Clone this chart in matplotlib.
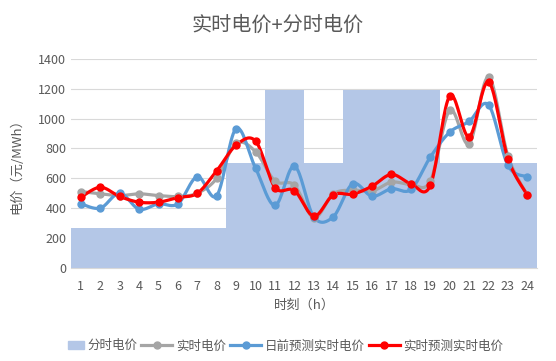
import numpy as np
import matplotlib.pyplot as plt
from matplotlib.patches import Patch, Rectangle
from matplotlib.lines import Line2D
from matplotlib.legend_handler import HandlerPatch

plt.rcParams['font.family'] = ['Noto Sans CJK SC', 'DejaVu Sans']

hours = list(range(1, 25))
tou_price = [265] * 8 + [700] * 2 + [1188] * 2 + [700] * 2 + [1188] * 5 + [700] * 5
real_price = [511, 496, 484, 496, 484, 478, 500, 600, 833, 778, 582, 554,
              335, 495, 520, 514, 574, 559, 581, 1055, 831, 1278, 749, 487]
day_ahead = [429, 400, 500, 393, 429, 429, 611, 484, 933, 667, 418, 682,
             340, 342, 563, 480, 530, 525, 742, 909, 981, 1091, 686, 610]
rt_forecast = [473, 540, 478, 440, 440, 471, 500, 651, 822, 849, 538, 518,
               346, 489, 494, 547, 626, 563, 552, 1151, 878, 1245, 731, 487]


def smooth(x, y, n=20):
    # Excel-style smoothed line: cubic bezier through points
    x = np.asarray(x, float)
    y = np.asarray(y, float)
    px = np.concatenate([[x[0]], x, [x[-1]]])
    py = np.concatenate([[y[0]], y, [y[-1]]])
    t = np.linspace(0, 1, n)
    xs, ys = [], []
    for i in range(len(x) - 1):
        p0 = np.array([px[i + 1], py[i + 1]])
        p3 = np.array([px[i + 2], py[i + 2]])
        c1 = p0 + (p3 - np.array([px[i], py[i]])) / 6
        c2 = p3 - (np.array([px[i + 3], py[i + 3]]) - p0) / 6
        b = ((1 - t) ** 3)[:, None] * p0 + (3 * (1 - t) ** 2 * t)[:, None] * c1 \
            + (3 * (1 - t) * t ** 2)[:, None] * c2 + (t ** 3)[:, None] * p3
        xs.append(b[:, 0])
        ys.append(b[:, 1])
    return np.concatenate(xs), np.concatenate(ys)


def small_box(legend, orig_handle, xdescent, ydescent, width, height, fontsize):
    w = width * 0.5
    return Rectangle((width - w - xdescent, -ydescent), w, height)


fig = plt.figure(figsize=(5.56, 3.61), dpi=100)
ax = fig.add_axes([0.128, 0.258, 0.838, 0.579])

ax.bar(hours, tou_price, width=1.0, color='#B4C7E7', zorder=2)

series = [(real_price, '#A5A5A5', 2.3), (day_ahead, '#5B9BD5', 2.3), (rt_forecast, '#FF0000', 2.3)]
for vals, col, lw in series:
    sx, sy = smooth(hours, vals)
    ax.plot(sx, sy, color=col, lw=lw, zorder=3, solid_capstyle='round')
    ax.plot(hours, vals, 'o', color=col, ms=5, zorder=4)

ax.set_xlim(0.5, 24.5)
ax.set_ylim(0, 1400)
ax.set_yticks(range(0, 1401, 200))
ax.set_xticks(hours)
ax.grid(axis='y', color='#D9D9D9', lw=0.8, zorder=0)
for s in ['top', 'right', 'left']:
    ax.spines[s].set_visible(False)
ax.spines['bottom'].set_color('#D9D9D9')
ax.tick_params(length=0, colors='#595959', labelsize=9)
ax.tick_params(axis='x', pad=9)

fig.text(0.5, 1 - 25 / 361, '实时电价+分时电价', fontsize=14.5, color='#595959',
         ha='center', va='center')
ax.set_ylabel('电价（元/MWh）', fontsize=9.5, color='#595959', labelpad=11)
ax.set_xlabel('时刻（h）', fontsize=9.5, color='#595959', labelpad=4)

handles = [
    Patch(color='#B4C7E7'),
    Line2D([], [], color='#A5A5A5', lw=2.3, marker='o', ms=5),
    Line2D([], [], color='#5B9BD5', lw=2.3, marker='o', ms=5),
    Line2D([], [], color='#FF0000', lw=2.3, marker='o', ms=5),
]
labels = ['分时电价', '实时电价', '日前预测实时电价', '实时预测实时电价']
fig.legend(handles, labels, loc='center', bbox_to_anchor=(0.5, 0.042), ncol=4,
           frameon=False, fontsize=9, labelcolor='#595959', handlelength=2.5,
           handletextpad=0.3, columnspacing=0.3,
           handler_map={Patch: HandlerPatch(patch_func=small_box)})

plt.savefig('out.png', dpi=100)
